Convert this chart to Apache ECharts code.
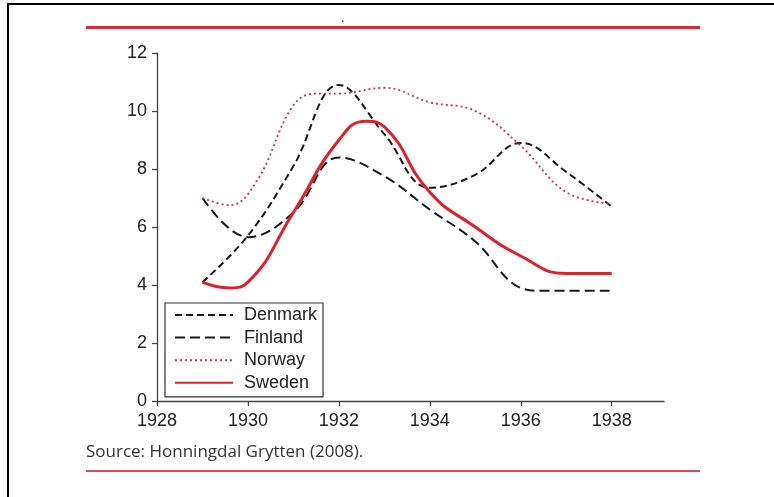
<!DOCTYPE html>
<html lang="en">
<head>
    <meta charset="UTF-8">
    <title>Nordic countries 1929-1938</title>
    <script src="https://cdn.jsdelivr.net/npm/echarts@6/dist/echarts.min.js"></script>
    <style>
        html, body { margin: 0; padding: 0; background: #fff; }
        #chart { width: 774px; height: 497px; }
    </style>
</head>
<body>
    <div id="chart"></div>
    <script>
        // data: [year, value]
        const denmark = [
            [1929, 4.1], [1930, 5.7], [1931, 8.1], [1932, 10.9], [1933, 9.2],
            [1934, 7.35], [1935, 7.8], [1936, 8.9], [1937, 7.9], [1938, 6.7]
        ];
        const finland = [
            [1929, 7.0], [1930, 5.65], [1931, 6.5], [1932, 8.4], [1933, 7.75],
            [1934, 6.6], [1935, 5.5], [1936, 3.9], [1936.5, 3.8], [1938, 3.8]
        ];
        const norway = [
            [1929, 7.0], [1929.6, 6.75], [1930.2, 7.6], [1931, 10.2], [1931.5, 10.6],
            [1932, 10.6], [1933, 10.8], [1934, 10.3], [1935, 10.0], [1936, 8.8],
            [1937, 7.2], [1938, 6.8]
        ];
        const sweden = [
            [1929, 4.1], [1929.6, 3.9], [1930, 4.1], [1931, 6.5], [1932, 9.0],
            [1932.6, 9.65], [1933, 9.45], [1934, 7.2], [1935, 6.0], [1936, 5.0],
            [1937, 4.4], [1938, 4.4]
        ];
        const yearTicks = [1928, 1930, 1932, 1934, 1936, 1938];
        const sourceText = 'Source: Honningdal Grytten (2008).';

        const font = "'Liberation Sans', Arial, sans-serif";
        const chart = echarts.init(document.getElementById('chart'), null, { renderer: 'canvas' });

        const option = {
            animation: false,
            backgroundColor: '#fff',
            grid: { left: 157, right: 110, top: 53, bottom: 96 },
            graphic: [
                // frame of the scan
                { type: 'rect', shape: { x: 7, y: 3, width: 767, height: 2 }, style: { fill: '#000' } },
                { type: 'rect', shape: { x: 7, y: 3, width: 2, height: 494 }, style: { fill: '#000' } },
                // red rules
                { type: 'rect', shape: { x: 86, y: 26, width: 614, height: 3 }, style: { fill: '#e5262e' } },
                { type: 'rect', shape: { x: 86, y: 470, width: 614, height: 2 }, style: { fill: '#db4a50' } },
                { type: 'text', left: 341, top: 13, style: { text: '.', fill: '#222', font: '12px ' + font } },
                {
                    type: 'text', left: 86, top: 444,
                    style: { text: sourceText, fill: '#333', font: '17px "Open Sans", sans-serif' }
                }
            ],
            legend: {
                orient: 'vertical',
                left: 165,
                top: 303,
                padding: [3, 6, 5, 9],
                borderColor: '#333',
                borderWidth: 1.2,
                itemWidth: 58,
                itemHeight: 14,
                itemGap: 4.6,
                backgroundColor: '#fff',
                itemStyle: { opacity: 0 },
                textStyle: { fontFamily: font, fontSize: 18, color: '#222', lineHeight: 18, padding: [0, 0, 0, 6] },
                data: ['Denmark', 'Finland', 'Norway', 'Sweden']
            },
            xAxis: {
                type: 'value',
                min: 1928,
                max: 1939.15,
                splitLine: { show: false },
                axisLine: { lineStyle: { color: '#444', width: 1.3 } },
                axisTick: { show: true, length: 5, customValues: yearTicks, lineStyle: { color: '#444', width: 1.3 } },
                axisLabel: {
                    customValues: yearTicks,
                    margin: 11,
                    fontFamily: font, fontSize: 18, color: '#222',
                    formatter: v => String(v)
                }
            },
            yAxis: {
                type: 'value',
                min: 0,
                max: 12,
                interval: 2,
                splitLine: { show: false },
                axisLine: { show: true, lineStyle: { color: '#444', width: 1.3 } },
                axisTick: { show: true, length: 5, lineStyle: { color: '#444', width: 1.3 } },
                axisLabel: { margin: 10, fontFamily: font, fontSize: 18, color: '#222' }
            },
            series: [
                {
                    name: 'Denmark', type: 'line', data: denmark, smooth: 0.4, symbol: 'none',
                    lineStyle: { color: '#1a1a1a', width: 2, type: [7, 4] }, itemStyle: { color: '#1a1a1a' }
                },
                {
                    name: 'Finland', type: 'line', data: finland, smooth: 0.4, symbol: 'none',
                    lineStyle: { color: '#1a1a1a', width: 2, type: [10, 5] }, itemStyle: { color: '#1a1a1a' }
                },
                {
                    name: 'Norway', type: 'line', data: norway, smooth: 0.4, symbol: 'none',
                    lineStyle: { color: '#e0303a', width: 1.8, type: [2, 3] }, itemStyle: { color: '#e0303a' }
                },
                {
                    name: 'Sweden', type: 'line', data: sweden, smooth: 0.5, symbol: 'none', z: 3,
                    lineStyle: { color: '#e3202a', width: 3 }, itemStyle: { color: '#e3202a' }
                }
            ]
        };

        chart.setOption(option);
    </script>
</body>
</html>
